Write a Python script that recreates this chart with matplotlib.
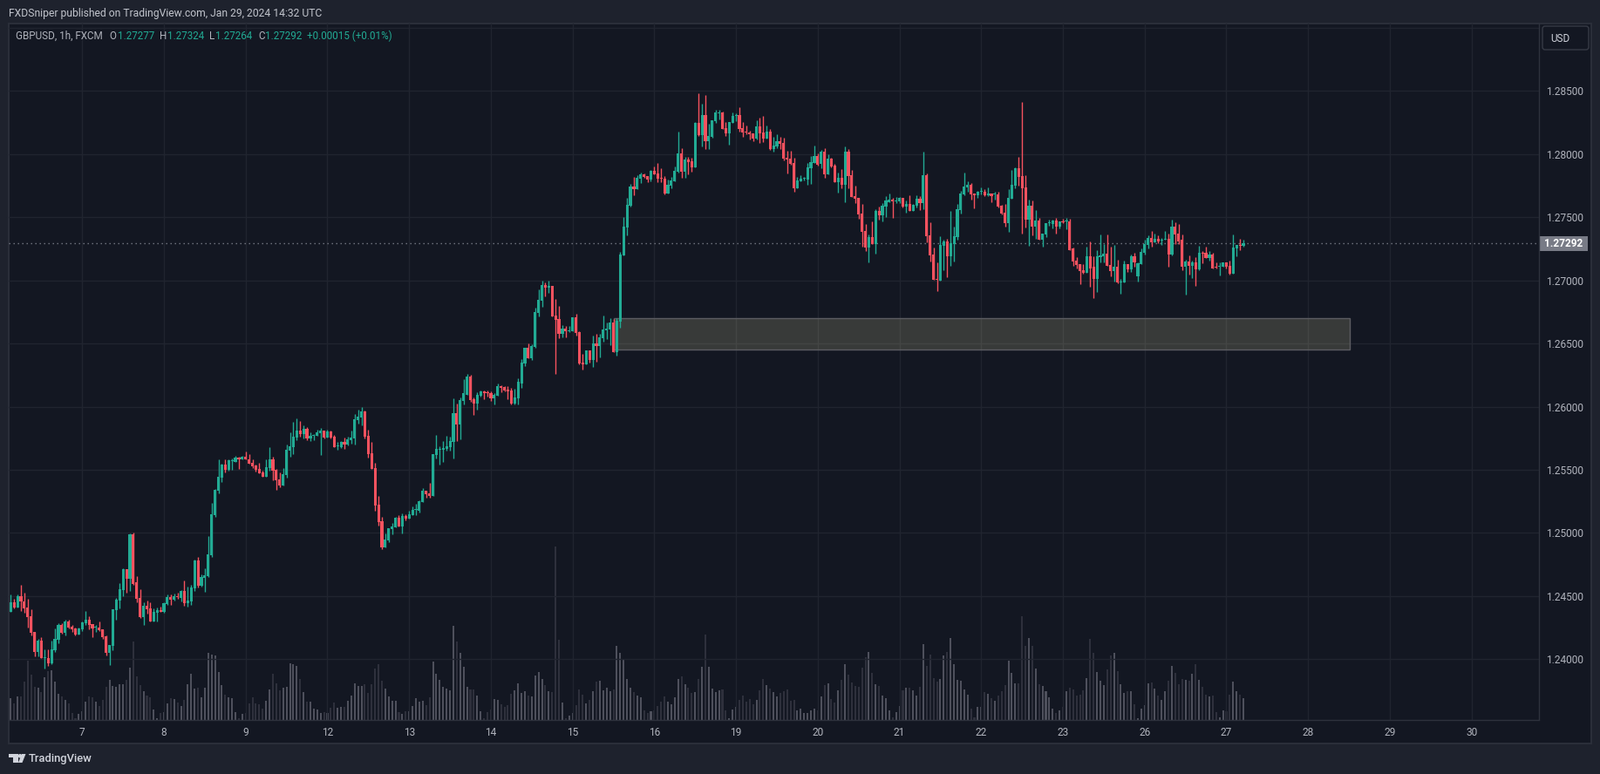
"""GBPUSD 1h candles with volume and a marked zone, TradingView dark theme."""
import matplotlib
matplotlib.use("Agg")
import matplotlib.pyplot as plt
import numpy as np
from matplotlib.patches import Circle, FancyBboxPatch, Polygon, Rectangle
from matplotlib.transforms import Affine2D

# prices in points, 124376 = 1.24376
opens = [
    124376,124452,124410,124500,124459,124410,124341,124217,124058,124148,
    124005,124007,123963,124071,124154,124272,124210,124300,124258,124244,
    124196,124237,124286,124313,124279,124247,124251,124235,124182,124051,
    124106,124389,124465,124548,124714,124638,124991,124611,124486,124334,
    124424,124403,124300,124369,124389,124376,124438,124493,124472,124500,
    124486,124542,124445,124459,124562,124783,124583,124645,124659,124825,
    125143,125334,125440,125544,125502,125570,125565,125599,125585,125606,
    125585,125558,125537,125509,125482,125447,125516,125585,125502,125426,
    125378,125461,125648,125682,125752,125807,125780,125821,125745,125768,
    125766,125786,125807,125752,125800,125759,125684,125682,125717,125703,
    125731,125745,125890,125911,125960,125766,125634,125516,125225,125093,
    124886,124941,125031,125045,125121,125052,125135,125114,125142,125180,
    125177,125246,125336,125315,125294,125620,125655,125655,125662,125682,
    125717,125946,125856,126043,126091,126237,126057,126022,126084,126119,
    126112,126105,126064,126084,126161,126154,126133,126126,126022,126064,
    126183,126343,126468,126384,126474,126745,126836,126961,126940,126954,
    126725,126697,126579,126620,126600,126600,126711,126593,126349,126336,
    126447,126370,126502,126481,126544,126606,126613,126669,126433,126676,
    127195,127422,127594,127745,127725,127807,127842,127828,127800,127869,
    127849,127814,127807,127690,127752,127787,127862,128007,127862,127959,
    127945,127897,128248,128151,128310,128103,128138,128261,128323,128330,
    128206,128165,128248,128303,128310,128206,128179,128172,128165,128124,
    128220,128172,128124,128179,128041,128062,128103,128089,127972,127965,
    127931,127732,127787,127803,127800,127890,127931,127986,127924,128021,
    127842,127965,127910,127780,127814,127759,128021,127835,127670,127656,
    127532,127394,127257,127346,127291,127553,127518,127587,127621,127642,
    127628,127628,127656,127587,127608,127553,127594,127649,127615,127835,
    127360,127208,127009,126995,127277,127312,127188,127291,127346,127559,
    127683,127738,127759,127690,127676,127700,127704,127676,127690,127679,
    127683,127594,127539,127456,127649,127752,127890,127828,127738,127484,
    127594,127429,127477,127319,127367,127451,127449,127477,127429,127470,
    127465,127470,127250,127160,127126,127078,127057,127188,127105,127009,
    127181,127188,127215,127119,127071,127105,126984,126981,127126,127091,
    127188,127030,127126,127222,127284,127339,127305,127332,127314,127319,
    127332,127208,127429,127374,127319,127105,127153,127112,127146,127085,
    127222,127222,127174,127202,127105,127107,127105,127146,127112,127050,
    127250,127284,127277,
]
highs = [
    124514,124479,124512,124590,124528,124479,124394,124217,124161,124175,
    124078,124078,124148,124244,124286,124286,124313,124313,124272,124251,
    124251,124300,124383,124341,124279,124272,124300,124237,124189,124113,
    124396,124486,124604,124721,124714,124998,125005,124659,124555,124452,
    124465,124452,124403,124410,124417,124452,124514,124514,124521,124528,
    124548,124624,124576,124590,124790,124811,124673,124721,124977,125240,
    125350,125579,125551,125585,125579,125592,125613,125606,125613,125641,
    125627,125579,125544,125558,125495,125585,125682,125606,125509,125482,
    125516,125703,125793,125877,125904,125883,125849,125835,125793,125780,
    125814,125828,125807,125814,125807,125773,125717,125724,125752,125759,
    125807,125939,125974,125994,125967,125814,125717,125558,125294,125128,
    124996,125038,125080,125128,125142,125156,125149,125177,125211,125232,
    125260,125357,125336,125398,125627,125773,125689,125724,125766,125759,
    126064,126022,126071,126216,126258,126251,126071,126112,126126,126126,
    126126,126119,126105,126181,126168,126161,126161,126147,126140,126223,
    126377,126468,126502,126495,126787,126926,126995,126981,126995,126954,
    126850,126801,126648,126641,126641,126711,126738,126600,126419,126447,
    126447,126565,126579,126579,126725,126669,126704,126697,126704,127229,
    127504,127656,127766,127821,127835,127855,127849,127828,127876,127904,
    127931,127890,127828,127800,127821,127904,128179,128048,127979,127979,
    127972,128255,128482,128399,128468,128241,128268,128351,128351,128337,
    128255,128255,128330,128323,128372,128255,128227,128186,128165,128268,
    128289,128303,128227,128199,128138,128158,128138,128131,128027,128027,
    127972,127821,127835,127821,127931,127986,128069,128007,128034,128048,
    128000,127972,127924,127855,127883,128062,128041,127876,127752,127656,
    127608,127449,127367,127470,127566,127587,127615,127670,127690,127656,
    127663,127663,127656,127635,127676,127608,127676,127670,128021,127849,
    127463,127257,127140,127353,127319,127332,127553,127429,127608,127711,
    127855,127787,127773,127690,127711,127738,127725,127738,127690,127704,
    127704,127601,127608,127725,127876,127897,127979,128413,127835,127642,
    127635,127559,127498,127374,127456,127484,127484,127498,127470,127491,
    127498,127491,127257,127181,127126,127126,127264,127312,127188,127243,
    127367,127291,127367,127264,127284,127167,127009,127160,127126,127208,
    127222,127146,127250,127319,127360,127394,127374,127360,127339,127394,
    127374,127484,127463,127449,127367,127167,127195,127160,127181,127277,
    127236,127264,127236,127222,127146,127140,127146,127146,127160,127367,
    127284,127332,127324,
]
lows = [
    124376,124399,124410,124383,124369,124251,124189,124023,124023,124005,
    123922,123947,123961,124058,124127,124203,124189,124244,124217,124189,
    124196,124224,124272,124237,124175,124217,124224,124161,124030,123956,
    124071,124313,124403,124500,124528,124542,124590,124452,124327,124272,
    124362,124300,124300,124300,124376,124369,124431,124431,124465,124479,
    124459,124424,124417,124431,124542,124569,124576,124535,124652,124811,
    125129,125315,125405,125482,125495,125502,125565,125509,125579,125579,
    125551,125516,125488,125475,125447,125447,125495,125419,125343,125364,
    125378,125440,125606,125627,125731,125759,125745,125731,125724,125731,
    125766,125620,125745,125752,125745,125682,125655,125675,125668,125696,
    125710,125703,125863,125849,125745,125599,125509,125177,125059,124872,
    124886,124927,124989,125045,125052,124996,125100,125114,125142,125142,
    125163,125246,125281,125281,125294,125592,125544,125565,125648,125648,
    125592,125724,125738,126015,126091,126036,125932,125974,126077,126057,
    126077,126043,126015,126084,126112,126119,126057,126015,126015,126015,
    126148,126322,126384,126370,126468,126718,126794,126877,126898,126718,
    126259,126544,126551,126551,126593,126600,126565,126336,126294,126336,
    126349,126315,126356,126391,126516,126537,126488,126433,126405,126627,
    127195,127360,127587,127676,127725,127773,127814,127780,127787,127842,
    127780,127780,127683,127690,127732,127787,127855,127814,127814,127842,
    127862,127897,128144,128062,128041,128041,128131,128248,128275,128199,
    128144,128076,128248,128261,128179,128138,128158,128117,128103,128117,
    128089,128096,128124,128034,128021,128048,128041,127952,127849,127917,
    127704,127732,127787,127794,127759,127766,127931,127910,127890,127814,
    127842,127897,127780,127697,127732,127621,127732,127663,127615,127491,
    127264,127236,127140,127291,127215,127484,127470,127504,127621,127498,
    127615,127615,127580,127539,127553,127553,127580,127560,127566,127305,
    127153,127002,126913,126995,127078,127023,127112,127153,127325,127532,
    127676,127704,127642,127573,127656,127683,127670,127670,127621,127642,
    127580,127525,127429,127387,127649,127732,127752,127374,127422,127277,
    127360,127332,127319,127264,127346,127436,127415,127374,127415,127456,
    127408,127243,127112,127098,126968,127050,127057,126947,126857,126906,
    127140,127146,127112,127030,126988,126975,126892,126981,127064,127064,
    127105,126988,127126,127208,127250,127270,127305,127298,127284,127319,
    127105,127195,127291,127291,127078,126885,127043,127016,126954,127078,
    127133,127174,127160,127098,127098,127036,127105,127098,127043,127050,
    127188,127243,127264,
]
closes = [
    124452,124410,124498,124454,124403,124334,124210,124058,124148,124005,
    124009,123968,124078,124161,124272,124210,124300,124251,124237,124196,
    124244,124293,124313,124272,124244,124251,124230,124173,124051,124113,
    124396,124472,124555,124714,124638,124991,124597,124479,124334,124424,
    124396,124300,124376,124389,124376,124445,124493,124472,124500,124493,
    124542,124445,124465,124569,124783,124583,124652,124666,124832,125150,
    125343,125447,125544,125502,125572,125572,125599,125585,125606,125579,
    125551,125530,125502,125475,125447,125523,125585,125495,125419,125378,
    125468,125655,125689,125759,125807,125780,125821,125745,125766,125773,
    125793,125807,125752,125800,125752,125682,125689,125717,125703,125738,
    125752,125897,125918,125960,125759,125627,125509,125218,125086,124886,
    124948,125038,125052,125121,125052,125135,125114,125149,125184,125184,
    125253,125336,125308,125294,125627,125662,125662,125669,125689,125724,
    125946,125856,126050,126105,126237,126050,126022,126091,126119,126105,
    126108,126064,126091,126161,126147,126126,126119,126022,126071,126195,
    126349,126468,126384,126481,126752,126843,126961,126940,126954,126718,
    126690,126579,126620,126600,126606,126711,126586,126343,126336,126447,
    126370,126502,126481,126551,126613,126620,126669,126433,126683,127202,
    127429,127601,127745,127725,127814,127842,127821,127800,127869,127842,
    127807,127807,127690,127759,127794,127869,128007,127862,127959,127938,
    127897,128248,128151,128310,128103,128144,128268,128330,128330,128199,
    128165,128255,128303,128310,128199,128172,128170,128158,128124,128220,
    128165,128124,128179,128041,128069,128103,128082,127965,127959,127924,
    127732,127794,127807,127807,127897,127938,127986,127917,128021,127842,
    127965,127904,127780,127814,127759,128021,127828,127663,127649,127525,
    127387,127257,127346,127291,127553,127518,127594,127635,127642,127628,
    127635,127656,127587,127608,127553,127601,127649,127615,127835,127353,
    127201,127002,127004,127284,127312,127188,127298,127353,127566,127690,
    127745,127759,127683,127676,127704,127704,127676,127690,127670,127683,
    127587,127532,127456,127656,127759,127890,127821,127732,127484,127594,
    127429,127477,127319,127374,127456,127456,127477,127429,127470,127463,
    127470,127243,127153,127119,127071,127057,127188,127098,127009,127188,
    127195,127215,127112,127071,127105,126981,126988,127126,127091,127188,
    127146,127133,127229,127291,127339,127305,127332,127312,127325,127332,
    127208,127429,127367,127312,127105,127153,127112,127146,127085,127222,
    127215,127174,127202,127098,127100,127112,127146,127105,127050,127257,
    127284,127277,127292,
]
volumes = [
    75,57,81,81,132,204,156,114,111,96,
    147,168,171,132,90,81,69,57,24,6,
    21,30,63,81,78,63,48,69,114,138,
    117,114,123,123,138,180,270,150,120,99,
    84,78,36,6,24,27,57,75,72,60,
    48,69,123,159,108,111,78,111,231,225,
    222,165,120,87,78,75,27,6,21,24,
    57,78,57,54,39,66,105,159,126,102,
    111,114,195,192,186,141,96,63,63,39,
    36,24,27,24,42,60,42,45,45,66,
    84,126,117,117,123,93,123,177,192,135,
    108,81,66,66,27,21,30,30,48,75,
    63,66,51,78,201,159,138,114,108,102,
    324,270,231,183,114,105,105,84,30,6,
    27,36,72,69,54,45,51,90,102,126,
    93,99,84,81,153,165,141,120,99,96,
    597,276,60,6,15,24,51,105,87,57,
    69,99,132,135,102,111,99,105,255,231,
    207,141,111,96,84,78,33,24,30,33,
    48,63,81,63,54,78,141,150,123,111,
    93,96,141,183,294,183,108,96,102,105,
    33,6,36,45,69,84,63,72,54,69,
    102,141,120,108,96,81,93,99,105,66,
    69,33,39,24,24,33,39,33,81,120,
    126,72,60,102,138,192,156,129,117,114,
    180,216,234,162,123,117,84,75,33,9,
    27,48,102,111,111,102,84,114,261,186,
    225,144,132,141,222,234,282,192,138,135,
    105,87,39,9,45,45,96,90,75,66,
    84,99,120,204,162,126,126,357,255,282,
    255,177,123,117,99,78,39,24,33,45,
    99,111,105,84,87,102,144,279,231,165,
    135,120,174,222,231,168,123,93,99,99,
    54,6,39,51,126,129,108,84,69,99,
    135,186,162,123,141,138,135,159,192,138,
    114,87,81,84,27,9,33,30,87,132,
    99,87,75,
]

day_labels = ["7", "8", "9", "12", "13", "14", "15", "16", "19", "20", "21",
              "22", "23", "26", "27", "28", "29", "30"]
day_bars = [21, 45, 69, 93, 117, 141, 165, 189, 213, 237, 261, 285, 309, 333,
            357, 381, 405, 429]
price_ticks = [1.24, 1.245, 1.25, 1.255, 1.26, 1.265, 1.27, 1.275, 1.28, 1.285, 1.29]
price_labels = ["1.24000", "1.24500", "1.25000", "1.25500", "1.26000", "1.26500",
                "1.27000", "1.27500", "1.28000", "1.28500", ""]

last_price = 1.27292
zone_start, zone_end = 177.0, 393.2
zone_low, zone_high = 1.26449, 1.26704

BG = "#1e222d"
PANEL = "#131722"
GRID = "#20242f"
EDGE = "#2a2e39"
TEXT = "#b2b5be"
UP = "#22ab94"
DOWN = "#f7525f"
VOL_UP = "#4e505c"
VOL_DOWN = "#2e303c"
FONT = "Roboto"

W, H = 1835, 888
fig = plt.figure(figsize=(W / 100, H / 100), dpi=100, facecolor=BG)
px = Affine2D().scale(1 / W, -1 / H).translate(0, 1) + fig.transFigure


def put_text(x, y, s, color=TEXT, size=8.6, **kw):
    kw.setdefault("va", "center")
    fig.text(x, y, s, color=color, fontsize=size, family=FONT, transform=px, **kw)


fig.add_artist(Rectangle((10, 27), 1815, 826, transform=px, facecolor=PANEL,
                         edgecolor=EDGE, lw=1.5))

# main axes run from the chart's left edge to the price scale, top to time scale
rect = [10 / W, 1 - 825.5 / H, 1755 / W, 798.5 / H]
ax = fig.add_axes(rect, facecolor="none")
ax_vol = ax.twinx()
ax.set_zorder(2)
ax_vol.set_zorder(1)

o = np.array(opens) / 1e5
h = np.array(highs) / 1e5
l = np.array(lows) / 1e5
c = np.array(closes) / 1e5
v = np.array(volumes)
idx = np.arange(len(o))
rising = c >= o
candle_colors = [UP if r else DOWN for r in rising]
vol_colors = [VOL_UP if r else VOL_DOWN for r in rising]

ax_vol.bar(idx, v, width=0.52, color=vol_colors, linewidth=0)
ax_vol.set_ylim(0, 2395.5)
ax_vol.axis("off")

ax.add_patch(Rectangle((zone_start, zone_low), zone_end - zone_start, zone_high - zone_low,
                       facecolor=(0.957, 0.914, 0.682, 0.17), edgecolor="#5c5c62", lw=1, zorder=1.5))
ax.axhline(last_price, color="#787b86", lw=1, ls=(0, (1, 2.6)), zorder=1.6)
ax.vlines(idx, l, h, colors=candle_colors, lw=1, zorder=2)
ax.bar(idx, np.maximum(np.abs(c - o), 7e-5), bottom=np.minimum(o, c), width=0.8,
       color=candle_colors, linewidth=0, zorder=2.1)

ax.set_xlim(-0.587, 448.8)
ax.set_ylim(1.23521, 1.29035)
ax.set_xticks(day_bars, day_labels)
ax.yaxis.tick_right()
ax.set_yticks(price_ticks, price_labels)
ax.tick_params(axis="x", length=0, pad=6, labelcolor=TEXT, labelsize=8.6)
ax.tick_params(axis="y", length=0, pad=5.5, labelcolor=TEXT, labelsize=8.6)
for lab in ax.get_xticklabels() + ax.get_yticklabels():
    lab.set_family(FONT)
ax.grid(True, color=GRID, lw=1)
ax.set_axisbelow(True)
for side, sp in ax.spines.items():
    sp.set_visible(side in ("right", "bottom"))
    sp.set_color("#2e323d")
    sp.set_linewidth(1)

# header and legend line
put_text(9.5, 15, "FXDSniper published on TradingView.com, Jan 29, 2024 14:32 UTC", size=8.7, color="#c3c6ce")
put_text(18, 41.5, "GBPUSD, 1h, FXCM", size=8.4)
for x, s, col in [(125, "O", TEXT), (134.5, "1.27277", UP), (183, "H", TEXT), (192, "1.27324", UP),
                  (240, "L", TEXT), (247, "1.27264", UP), (296, "C", TEXT), (304, "1.27292", UP),
                  (352, "+0.00015 (+0.01%)", UP)]:
    put_text(x, 41.5, s, color=col, size=8.4)

# last price tag and currency button
fig.add_artist(Rectangle((1765, 271), 55.7, 16.6, transform=px, facecolor="#787b86", edgecolor="none"))
put_text(1815, 279.5, "1.27292", color="#ffffff", size=8.6, weight="bold", ha="right")
fig.add_artist(FancyBboxPatch((1771, 32), 49, 23, boxstyle="round,pad=2,rounding_size=3", transform=px,
                              facecolor=PANEL, edgecolor="#363a45", lw=1))
put_text(1778, 44.5, "USD", color="#d1d4dc", size=8.4)

# logo and wordmark
logo = "#d1d4dc"
fig.add_artist(Polygon([(10, 865), (20.5, 865), (20.5, 875), (14.7, 875), (14.7, 869), (10, 869)],
                       transform=px, facecolor=logo, edgecolor="none"))
fig.add_artist(Circle((23, 867.3), 2.3, transform=px, facecolor=logo, edgecolor="none"))
fig.add_artist(Polygon([(29.5, 865), (25.5, 875), (20.9, 875), (25, 865)],
                       transform=px, facecolor=logo, edgecolor="none"))
put_text(33, 870.5, "TradingView", color=logo, size=9.4, weight="medium")

fig.savefig("out.png", dpi=100, facecolor=BG)
plt.close(fig)
